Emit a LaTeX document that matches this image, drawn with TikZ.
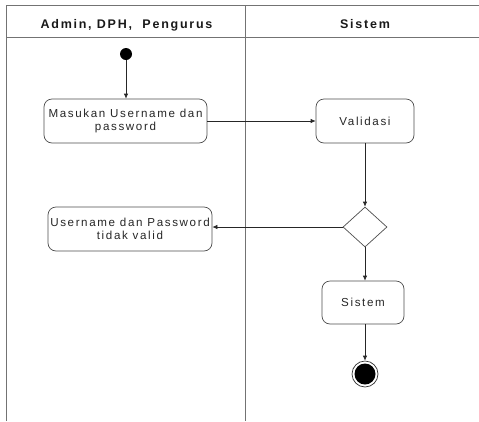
\documentclass[tikz,border=0pt]{standalone}
\usepackage{fontspec}
\setmainfont{Liberation Sans}
\newfontfamily\boxfont[LetterSpace=14]{Liberation Sans}
\newfontfamily\headfont[LetterSpace=14]{Liberation Sans}
\usetikzlibrary{arrows.meta,shapes.geometric}
\begin{document}
\begin{tikzpicture}[x=1pt,y=1pt,
  lane/.style={draw=black!55, line width=0.8pt},
  act/.style={draw=black!70, line width=0.7pt, rounded corners=8pt, align=center, inner sep=0pt,
    font=\boxfont\fontsize{11.6}{13.5}\selectfont, text=black!85},
  flow/.style={draw=black!85, line width=0.7pt, -{Latex[length=5pt,width=4.5pt]}},
  headtxt/.style={font=\headfont\bfseries\fontsize{12.5}{14}\selectfont, anchor=base, text=black!90}
]
\useasboundingbox (0,0) rectangle (479,-421);
% swimlanes
\draw[lane] (6.5,-421) -- (6.5,-5) -- (479,-5);
\draw[lane] (6.5,-37.7) -- (479,-37.7);
\draw[lane] (245.7,-5) -- (245.7,-421);
\node[headtxt] (h1) at (126.5,-28.5) {Admin, DPH,\ \ Pengurus};
\node[headtxt] (h2) at (365,-28.5) {Sistem};
% nodes
\node[circle, fill=black, inner sep=0pt, minimum size=12pt] (start) at (126,-54) {};
\node[act, minimum width=163pt, minimum height=44pt] (masuk) at (125.5,-121) {Masukan Username dan\\password};
\node[act, minimum width=98pt, minimum height=44pt] (valid) at (365,-121) {Validasi};
\node[diamond, draw=black!70, line width=0.7pt, minimum width=44pt, minimum height=40pt, inner sep=0pt] (dia) at (365,-227) {};
\node[act, minimum width=164pt, minimum height=44pt] (invalid) at (130,-229) {Username dan Password\\tidak valid};
\node[act, minimum width=82pt, minimum height=43pt] (sistem) at (363,-302.5) {Sistem};
\node[circle, draw=black!80, line width=0.7pt, fill=white, inner sep=0pt, minimum size=26pt] (end) at (365,-374) {};
\node[circle, fill=black, inner sep=0pt, minimum size=21pt] (endin) at (end) {};
% flows
\draw[flow] (start) -- (start |- masuk.north);
\draw[flow] (masuk.east) -- (valid.west);
\draw[flow] (valid.south -| dia.north) -- (dia.north);
\draw[flow] (dia.west) -- (dia.west -| invalid.east);
\draw[flow] (dia.south) -- (dia.south |- sistem.north);
\draw[flow] (sistem.south -| end.north) -- (end.north);
\end{tikzpicture}
\end{document}
